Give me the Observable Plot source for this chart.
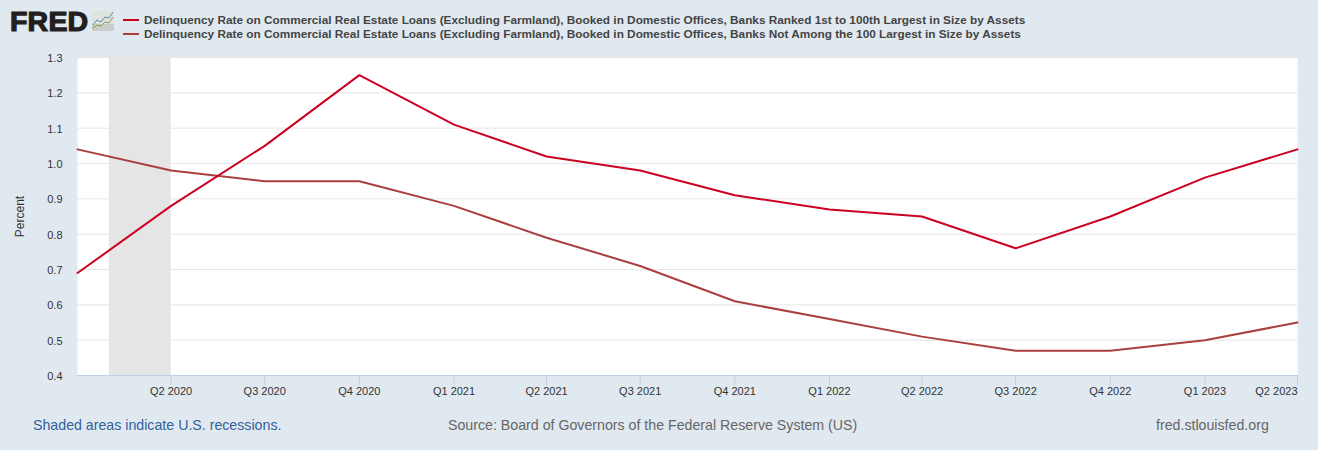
<!DOCTYPE html>
<html>
<head>
<meta charset="utf-8">
<script src="https://cdn.jsdelivr.net/npm/d3@7"></script>
<script src="https://cdn.jsdelivr.net/npm/@observablehq/plot@0.6"></script>
<style>
html,body{margin:0;padding:0;background:#e1e9f0;width:1318px;height:450px;overflow:hidden;font-family:"Liberation Sans",Arial,sans-serif}
#chart{position:absolute;left:0;top:0}
.abs{position:absolute;white-space:nowrap}
.leg{left:144px;font-size:11.8px;font-weight:bold;color:#444;line-height:14px}
.sw{position:absolute;left:123px;width:16px;height:2px}
.foot{top:416.5px;font-size:14.2px;line-height:17px;color:#666}
</style>
</head>
<body>
<div id="chart"></div>
<div class="abs" style="left:10px;top:5px;font-size:28.5px;font-weight:bold;line-height:32px;color:#231f20;-webkit-text-stroke:1.2px #231f20;letter-spacing:0.2px" id="logo">FRED</div>
<svg class="abs" style="left:92px;top:11px" width="23" height="20" viewBox="0 0 23 20">
<rect width="22" height="20" rx="2" fill="#dfe3de"/><rect y="13" width="22" height="7" fill="#c9cdc8"/>
<path d="M1 14 L5 9 L9 11 L13 6 L17 7 L21 1" fill="none" stroke="#5b87a8" stroke-width="1"/>
<path d="M1 17 L5 14 L9 15 L13 11 L17 12 L21 6" fill="none" stroke="#7fa04f" stroke-width="1"/>
</svg>
<div class="sw" style="top:19px;background:#cc0022"></div>
<div class="sw" style="top:33px;background:#aa3f3f"></div>
<div class="abs leg" id="l1" style="top:12.5px"></div>
<div class="abs leg" id="l2" style="top:26.5px"></div>
<div class="abs foot" style="left:33px;color:#335f9c">Shaded areas indicate U.S. recessions.</div>
<div class="abs foot" style="left:448px">Source: Board of Governors of the Federal Reserve System (US)</div>
<div class="abs foot" style="left:1156px">fred.stlouisfed.org</div>
<script>
const quarters = ["2020-01-01","2020-04-01","2020-07-01","2020-10-01","2021-01-01","2021-04-01","2021-07-01","2021-10-01","2022-01-01","2022-04-01","2022-07-01","2022-10-01","2023-01-01","2023-04-01"];
const top100 = [0.69,0.88,1.05,1.25,1.11,1.02,0.98,0.91,0.87,0.85,0.76,0.85,0.96,1.04];
const others = [1.04,0.98,0.95,0.95,0.88,0.79,0.71,0.61,0.56,0.51,0.47,0.47,0.50,0.55];
const tickLabels = ["Q2 2020","Q3 2020","Q4 2020","Q1 2021","Q2 2021","Q3 2021","Q4 2021","Q1 2022","Q2 2022","Q3 2022","Q4 2022","Q1 2023","Q2 2023"];
const recessionStart = "2020-02-01", recessionEnd = "2020-04-01";
const yTicks = [0.4,0.5,0.6,0.7,0.8,0.9,1.0,1.1,1.2,1.3];
const seriesNames = [
 "Delinquency Rate on Commercial Real Estate Loans (Excluding Farmland), Booked in Domestic Offices, Banks Ranked 1st to 100th Largest in Size by Assets",
 "Delinquency Rate on Commercial Real Estate Loans (Excluding Farmland), Booked in Domestic Offices, Banks Not Among the 100 Largest in Size by Assets"];
document.getElementById("l1").textContent = seriesNames[0];
document.getElementById("l2").textContent = seriesNames[1];

const dates = quarters.map(d => new Date(d));
const tickDates = dates.slice(1);
const tickTable = tickDates.map((d,i) => ({d, label: tickLabels[i]}));
const plot = Plot.plot({
  width: 1318, height: 450,
  marginLeft: 77, marginRight: 21, marginTop: 57, marginBottom: 75,
  style: {background: "transparent", fontFamily: '"Liberation Sans",Arial,sans-serif', fontSize: "11px", color: "#333", overflow: "visible"},
  x: {type: "utc", domain: [dates[0], dates[dates.length-1]]},
  y: {domain: [0.4, 1.3]},
  marks: [
    Plot.frame({fill: "white", stroke: null, marginRight: 20}),
    Plot.gridY(yTicks, {stroke: "#e6e6e6", strokeOpacity: 1, strokeWidth: 1, marginRight: 20}),
    Plot.rectY([{a: new Date(recessionStart), b: new Date(recessionEnd)}], {x1: "a", x2: "b", y1: 0.4, y2: 1.3, fill: "#e5e5e5"}),
    Plot.ruleY([0.4], {stroke: "#c0d0e0", strokeWidth: 1, marginRight: 20}),
    Plot.axisY({ticks: yTicks, tickSize: 0, tickPadding: 15, tickFormat: d3.format(".1f"), label: null, dy: 1, fill: "#333", fontSize: 11}),
    Plot.text(["Percent"], {frameAnchor: "left", textAnchor: "middle", dx: -57, rotate: -90, fontSize: 12, fill: "#333"}),
    Plot.axisX({ticks: tickDates, tickSize: 10, stroke: "#c0d0e0", strokeOpacity: 1, text: null, label: null}),
    Plot.text(tickTable.slice(0,-1), {x: "d", y: 0.4, text: "label", dy: 16, fill: "#333", fontSize: 11}),
    Plot.text(tickTable.slice(-1), {x: "d", y: 0.4, text: "label", dy: 16, textAnchor: "end", fill: "#333", fontSize: 11}),
    Plot.lineY(others.map((v,i) => ({d: dates[i], v})), {x: "d", y: "v", stroke: "#aa3f3f", strokeWidth: 2}),
    Plot.lineY(top100.map((v,i) => ({d: dates[i], v})), {x: "d", y: "v", stroke: "#cc0022", strokeWidth: 2})
  ]
});
document.getElementById("chart").appendChild(plot);
</script>
</body>
</html>
